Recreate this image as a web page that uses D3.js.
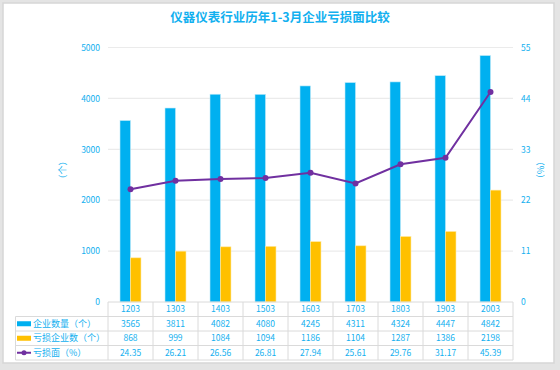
<!DOCTYPE html>
<html>
<head>
<meta charset="utf-8">
<title>仪器仪表行业历年1-3月企业亏损面比较</title>
<script src="https://d3js.org/d3.v7.min.js"></script>
<style>
  body { margin: 0; background: #e4e4e4; }
  svg { display: block; font-family: "Noto Sans CJK SC", sans-serif; }
</style>
</head>
<body>
<svg width="560" height="370"></svg>
<script>
  const categories = ['1203', '1303', '1403', '1503', '1603', '1703', '1803', '1903', '2003'];
  const enterprises = [3565, 3811, 4082, 4080, 4245, 4311, 4324, 4447, 4842];
  const lossMaking = [868, 999, 1084, 1094, 1186, 1104, 1287, 1386, 2198];
  const lossRate = [24.35, 26.21, 26.56, 26.81, 27.94, 25.61, 29.76, 31.17, 45.39];
  const leftTicks = [0, 1000, 2000, 3000, 4000, 5000];
  const rightTicks = [0, 11, 22, 33, 44, 55];

  const blue = '#00b0f0', yellow = '#ffc000', purple = '#7030a0', txt = '#12b0ef';
  const gridColor = '#ebebeb', tableColor = '#dadada';

  const svg = d3.select('svg');

  // panel
  svg.append('rect').attr('x', 3).attr('y', 3).attr('width', 551).attr('height', 360)
    .attr('fill', '#fff').attr('stroke', '#d6d6d6').attr('stroke-width', 1.5);

  svg.append('text').attr('x', 280).attr('y', 22).attr('text-anchor', 'middle')
    .attr('font-size', 12.5).attr('font-weight', 'bold').attr('fill', txt)
    .text('仪器仪表行业历年1-3月企业亏损面比较');

  const x = d3.scaleBand().domain(categories).range([108, 513]);
  const yL = d3.scaleLinear().domain([0, 5000]).range([302, 47.5]);
  const yR = d3.scaleLinear().domain([0, 55]).range([302, 47.5]);
  const cx = d => x(d) + x.bandwidth() / 2;
  const barW = 10.5;

  // grid
  svg.append('g').selectAll('line').data(leftTicks.slice(1)).enter().append('line')
    .attr('x1', 108).attr('x2', 513)
    .attr('y1', d => yL(d)).attr('y2', d => yL(d))
    .attr('stroke', gridColor).attr('stroke-width', 1.2);

  // axes
  const axL = svg.append('g').attr('transform', 'translate(100,0)')
    .call(d3.axisLeft(yL).tickValues(leftTicks).tickFormat(d3.format('d')).tickSize(0).tickPadding(0));
  const axR = svg.append('g').attr('transform', 'translate(521,0)')
    .call(d3.axisRight(yR).tickValues(rightTicks).tickFormat(d3.format('d')).tickSize(0).tickPadding(0));
  [axL, axR].forEach(a => {
    a.select('.domain').remove();
    a.selectAll('text').attr('fill', txt).attr('font-size', 8.5)
      .attr('font-family', '"Noto Sans CJK SC", sans-serif');
  });

  svg.append('text').attr('transform', 'translate(63,170) rotate(-90)')
    .attr('text-anchor', 'middle').attr('dy', '0.35em')
    .attr('font-size', 9).attr('fill', txt).text('（个）');
  svg.append('text').attr('transform', 'translate(540,170) rotate(90)')
    .attr('text-anchor', 'middle').attr('dy', '0.35em')
    .attr('font-size', 9).attr('fill', txt).text('（%）');

  // bars
  svg.append('g').selectAll('rect').data(categories).enter().append('rect')
    .attr('x', d => cx(d) - barW).attr('width', barW)
    .attr('y', (d, i) => yL(enterprises[i]))
    .attr('height', (d, i) => yL(0) - yL(enterprises[i]))
    .attr('fill', blue).attr('stroke', '#bfeaf9').attr('stroke-width', 0.6);
  svg.append('g').selectAll('rect').data(categories).enter().append('rect')
    .attr('x', d => cx(d)).attr('width', barW)
    .attr('y', (d, i) => yL(lossMaking[i]))
    .attr('height', (d, i) => yL(0) - yL(lossMaking[i]))
    .attr('fill', yellow).attr('stroke', '#ffe9a6').attr('stroke-width', 0.6);

  // line
  const line = d3.line().x(d => cx(d.c)).y(d => yR(d.v));
  const pts = categories.map((c, i) => ({ c, v: lossRate[i] }));
  svg.append('path').datum(pts).attr('d', line)
    .attr('fill', 'none').attr('stroke', purple).attr('stroke-width', 2);
  svg.append('g').selectAll('circle').data(pts).enter().append('circle')
    .attr('cx', d => cx(d.c)).attr('cy', d => yR(d.v)).attr('r', 3)
    .attr('fill', purple);

  // data table
  const rowH = 14.5;
  const rowTop = [302, 302 + rowH, 302 + 2 * rowH, 302 + 3 * rowH, 302 + 4 * rowH];
  const tbl = svg.append('g');
  const tl = (x1, y1, x2, y2) => tbl.append('line')
    .attr('x1', x1).attr('y1', y1).attr('x2', x2).attr('y2', y2)
    .attr('stroke', tableColor).attr('stroke-width', 1);
  tl(108, rowTop[0], 513, rowTop[0]);
  tl(15.5, rowTop[1], 513, rowTop[1]);
  tl(15.5, rowTop[2], 513, rowTop[2]);
  tl(15.5, rowTop[3], 513, rowTop[3]);
  tl(15.5, rowTop[4], 513, rowTop[4]);
  tl(15.5, rowTop[1], 15.5, rowTop[4]);
  categories.forEach(c => tl(x(c), rowTop[0], x(c), rowTop[4]));
  tl(513, rowTop[0], 513, rowTop[4]);

  const rows = [categories, enterprises, lossMaking, lossRate.map(v => v.toFixed(2))];
  rows.forEach((r, ri) => {
    tbl.append('g').selectAll('text').data(r).enter().append('text')
      .attr('x', (d, i) => cx(categories[i]))
      .attr('y', rowTop[ri] + rowH / 2).attr('dy', '0.35em')
      .attr('text-anchor', 'middle').attr('font-size', 8.5).attr('fill', txt)
      .text(d => d);
  });

  const legendNames = ['企业数量（个）', '亏损企业数（个）', '亏损面（%）'];
  legendNames.forEach((n, i) => {
    const yc = rowTop[i + 1] + rowH / 2;
    if (i < 2) {
      tbl.append('rect').attr('x', 17).attr('y', yc - 2.5).attr('width', 14).attr('height', 5)
        .attr('fill', i === 0 ? blue : yellow);
    } else {
      tbl.append('line').attr('x1', 17).attr('x2', 31).attr('y1', yc).attr('y2', yc)
        .attr('stroke', purple).attr('stroke-width', 2);
      tbl.append('circle').attr('cx', 24).attr('cy', yc).attr('r', 2.5).attr('fill', purple);
    }
    tbl.append('text').attr('x', 33).attr('y', yc).attr('dy', '0.35em')
      .attr('font-size', 9).attr('fill', txt).text(n);
  });
</script>
</body>
</html>
